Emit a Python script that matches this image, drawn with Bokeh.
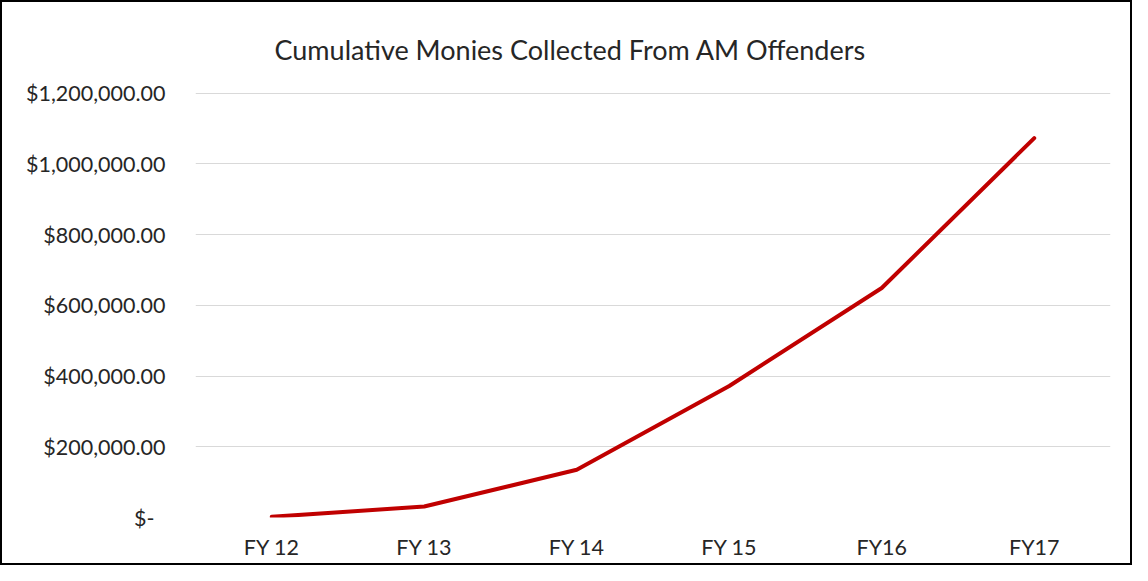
from bokeh.plotting import figure
from bokeh.models import FixedTicker, CustomJSTickFormatter
from bokeh.embed import file_html
from bokeh.resources import INLINE

categories = ["FY 12", "FY 13", "FY 14", "FY 15", "FY16", "FY17"]
collected = [2000, 31000, 135000, 372000, 649000, 1073000]
y_ticks = [0, 200000, 400000, 600000, 800000, 1000000, 1200000]
title_text = "Cumulative Monies Collected From AM Offenders"

FONT = "Lato"
TEXT_COLOR = "#262626"

p = figure(width=1132, height=565, x_range=categories, y_range=(0, 1202000),
           output_backend="svg", toolbar_location=None, title=title_text)
p.styles = {"border": "2px solid black", "box-sizing": "border-box"}

p.min_border_left = 193
p.min_border_right = 24
p.min_border_bottom = 50
p.min_border_top = 90

p.title.text_font = FONT
p.title.text_font_size = "27px"
p.title.text_font_style = "normal"
p.title.text_color = TEXT_COLOR
p.title.align = "left"
p.title.standoff = 54
p.title.offset = 79

p.line(x=categories, y=collected, line_color="#C00000", line_width=4, line_join="round", line_cap="round")

p.outline_line_color = None
p.xgrid.grid_line_color = None
p.ygrid.grid_line_color = "#D9D9D9"
p.ygrid.grid_line_width = 1

yax = p.yaxis[0]
xax = p.xaxis[0]
yax.ticker = FixedTicker(ticks=y_ticks)
yax.formatter = CustomJSTickFormatter(code="""
if (tick == 0) { return "$-\u00a0\u00a0"; }
return "$" + tick.toLocaleString("en-US", {minimumFractionDigits: 2, maximumFractionDigits: 2});
""")
for ax in (xax, yax):
    ax.axis_line_color = None
    ax.major_tick_line_color = None
    ax.minor_tick_line_color = None
    ax.major_tick_out = 0
    ax.major_tick_in = 0
    ax.major_label_text_font = FONT
    ax.major_label_text_font_size = "21.5px"
    ax.major_label_text_color = TEXT_COLOR
yax.major_label_standoff = 30
xax.major_label_standoff = 16

open("out.html", "w").write(file_html(p, INLINE))
